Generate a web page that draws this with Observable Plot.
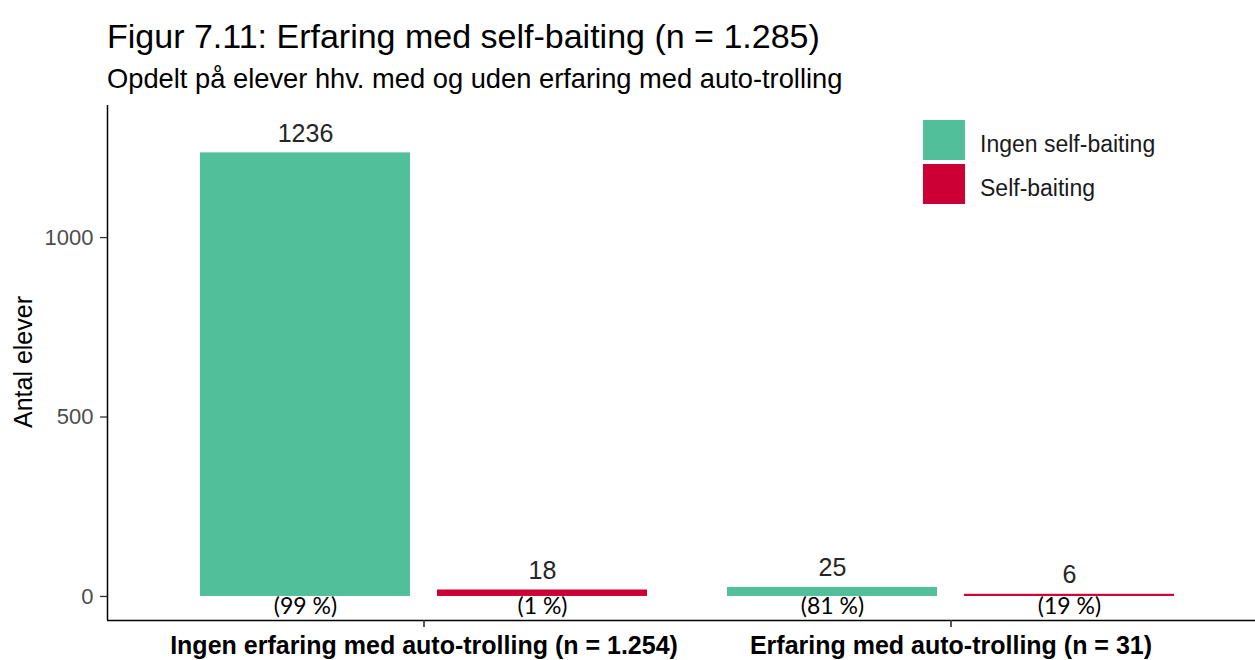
<!DOCTYPE html>
<html><head><meta charset="utf-8">
<script src="https://cdn.jsdelivr.net/npm/d3@7"></script>
<script src="https://cdn.jsdelivr.net/npm/@observablehq/plot@0.6"></script>
<style>
body{margin:0;background:#fff;font-family:"Liberation Sans",Arial,sans-serif;}
#wrap{position:relative;width:1255px;height:660px;overflow:hidden;background:#fff;}
#title{position:absolute;left:107px;top:19px;font-size:34px;line-height:34px;color:#000;white-space:nowrap;}
#subtitle{position:absolute;left:107px;top:65px;font-size:27.3px;line-height:27px;color:#000;white-space:nowrap;}
#ylab{position:absolute;left:23px;top:362px;transform:translate(-50%,-50%) rotate(-90deg);font-size:25px;line-height:25px;white-space:nowrap;color:#000;}
#axes,#bars{position:absolute;left:0;top:95px;}
#legend{position:absolute;left:923px;top:120px;}
.li{display:flex;align-items:center;height:40px;margin-bottom:4px;}
.sw{width:42px;height:40px;margin-right:15px;}
.lt{font-size:23px;color:#1a1a1a;white-space:nowrap;padding-top:8px;}
#bars g[aria-label="fx-axis tick label"] text{font-weight:bold;font-size:25px;fill:#000;}
</style>
</head><body>
<div id="wrap">
  <div id="title"></div>
  <div id="subtitle"></div>
  <div id="ylab"></div>
  <div id="axes"></div>
  <div id="bars"></div>
  <div id="legend"></div>
</div>
<script>
const titleText = "Figur 7.11: Erfaring med self-baiting (n = 1.285)";
const subtitleText = "Opdelt på elever hhv. med og uden erfaring med auto-trolling";
const yLabel = "Antal elever";
const groups = ["Ingen erfaring med auto-trolling (n = 1.254)", "Erfaring med auto-trolling (n = 31)"];
const series = ["Ingen self-baiting", "Self-baiting"];
const countsNoAuto = [1236, 18];
const countsAuto = [25, 6];
const pctNoAuto = [99, 1];
const pctAuto = [81, 19];
const yTicks = [0, 500, 1000];
const colors = ["#52bf9b", "#cc0035"];

document.getElementById("title").textContent = titleText;
document.getElementById("subtitle").textContent = subtitleText;
document.getElementById("ylab").textContent = yLabel;

const counts = [countsNoAuto, countsAuto];
const pcts = [pctNoAuto, pctAuto];
const data = groups.flatMap((g, i) => series.map((s, j) => ({group: g, series: s, count: counts[i][j], pct: pcts[i][j]})));

const yDomain = [-67, 1368];
const W = 1266, H = 565;
const common = {width: W, height: H, marginLeft: 107, marginRight: 0, marginTop: 10, marginBottom: 40};

const axes = Plot.plot({
  ...common,
  style: "background:transparent;max-width:none;font-family:'Liberation Sans',Arial,sans-serif;font-size:22px;color:#333;",
  x: {domain: [0, 1], axis: null},
  y: {domain: yDomain, ticks: yTicks, tickFormat: d3.format("d"), tickSize: 7, tickPadding: 7, label: null},
  marks: [
    Plot.axisY(yTicks, {tickSize: 7, tickPadding: 7, tickFormat: d3.format("d"), label: null, stroke: "#333", strokeWidth: 1.3, fontSize: 22, fill: "#4d4d4d"}),
    Plot.ruleX([0], {stroke: "#000", strokeWidth: 1.5}),
    Plot.ruleY([yDomain[0]], {stroke: "#000", strokeWidth: 1.5})
  ]
});
document.getElementById("axes").appendChild(axes);

const bars = Plot.plot({
  ...common,
  style: "background:transparent;max-width:none;font-family:'Liberation Sans',Arial,sans-serif;font-size:22px;color:#333;",
  fx: {domain: groups, paddingInner: 0, paddingOuter: 0.0996, label: null, axis: "bottom", tickSize: 7, tickPadding: 9},
  x: {domain: series, paddingInner: 0.1134, paddingOuter: 0.1639, axis: null},
  y: {domain: yDomain, axis: null},
  color: {domain: series, range: colors},
  marks: [
    Plot.ruleX(groups, {fx: d => d, x: null, y1: yDomain[0], y2: yDomain[0], insetBottom: -7, stroke: "#333", strokeWidth: 1.3}),
    Plot.barY(data, {fx: "group", x: "series", y: "count", fill: "series"}),
    Plot.text(data, {fx: "group", x: "series", y: "count", text: d => String(d.count), lineAnchor: "bottom", dy: -11, fontSize: 25, fill: "#262626"}),
    Plot.text(data, {fx: "group", x: "series", y: () => 0, text: d => `(${d.pct} %)`, lineAnchor: "top", dy: 1, fontSize: 23, fill: "#000", fontFamily: "Lato, 'Noto Sans', sans-serif"})
  ]
});
document.getElementById("bars").appendChild(bars);

const legend = document.getElementById("legend");
series.forEach((s, i) => {
  const row = document.createElement("div");
  row.className = "li";
  const sw = document.createElement("div");
  sw.className = "sw";
  sw.style.background = colors[i];
  const t = document.createElement("div");
  t.className = "lt";
  t.textContent = s;
  row.appendChild(sw); row.appendChild(t);
  legend.appendChild(row);
});
</script>
</body></html>
